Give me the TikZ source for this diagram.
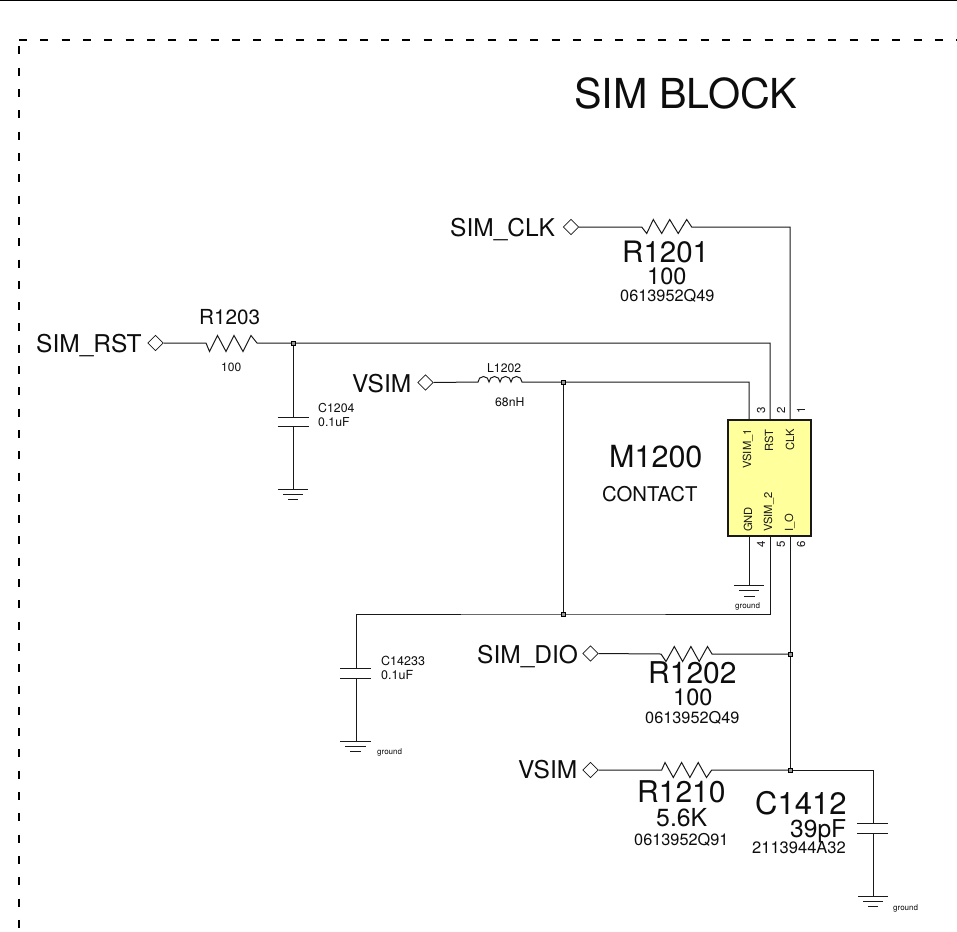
\documentclass[tikz,border=0pt]{standalone}
\usepackage{fontspec}
\setmainfont{TeX Gyre Heros}
\newcommand{\fs}[1]{\fontsize{#1}{#1}\selectfont}
\definecolor{chipfill}{HTML}{FFFF9C}
\tikzset{
  wire/.style={draw=black!90,line width=1pt,line join=miter},
  comp/.style={draw=black!90,line width=0.9pt,line join=miter},
  port/.style={draw=black!90,line width=0.7pt,fill=white,diamond,aspect=1,inner sep=0pt,minimum width=15.5pt,minimum height=15.5pt},
  junction/.style={draw=black,fill=black!40,line width=0.6pt,rectangle,inner sep=0pt,minimum size=3.6pt},
  lbl/.style={anchor=base west,inner sep=0pt,text=black!95},
  pinlbl/.style={inner sep=0pt,text=black!90,font=\fs{11.2},rotate=90},
  pinnum/.style={inner sep=0pt,text=black!90,font=\fs{11.5},rotate=90},
  chip/.style={draw=black!90,fill=chipfill,line width=1.5pt,rectangle,inner sep=0pt,minimum width=83pt,minimum height=116pt},
}
\usetikzlibrary{shapes.geometric}
\begin{document}
\begin{tikzpicture}[x=1pt,y=-1pt]
\useasboundingbox (0,0) rectangle (957,931);
\fill[white] (0,0) rectangle (957,931);
\draw[black,line width=2pt] (0,0.5) -- (957,0.5);
\draw[black,line width=2pt,dash pattern=on 8pt off 13.3pt] (19,40) -- (957,40);
\draw[black,line width=2pt,dash pattern=on 8pt off 13.3pt] (19,46.5) -- (19,931);
\node[lbl,font=\fs{41.3}] (title) at (574,108) {SIM BLOCK};

% chip
\node[chip] (M) at (769.5,478) {};
\coordinate (p3) at (749,420); \coordinate (p2) at (770,420); \coordinate (p1) at (790,420);
\coordinate (p4) at (749,536); \coordinate (p5) at (770,536); \coordinate (p6) at (790,536);
\node[pinlbl,anchor=east] (lv1) at (748,429) {VSIM\_1};
\node[pinlbl,anchor=east] (lrst) at (769,429.5) {RST};
\node[pinlbl,anchor=east] (lclk) at (790,428.5) {CLK};
\node[pinlbl,anchor=west] (lgnd) at (748,532) {GND};
\node[pinlbl,anchor=west] (lv2) at (769,532) {VSIM\_2};
\node[pinlbl,anchor=west] (lio) at (790,532) {I\_O};
\node[pinnum] (n3) at (761,410) {3};
\node[pinnum] (n2) at (781,410) {2};
\node[pinnum] (n1) at (801,410) {1};
\node[pinnum] (n4) at (761,544.5) {4};
\node[pinnum] (n5) at (781,544.5) {5};
\node[pinnum] (n6) at (801,544.5) {6};
\node[lbl,font=\fs{30.5}] (m1200) at (609,467) {M1200};
\node[lbl,font=\fs{20.3}] (contact) at (602,501) {CONTACT};

% ports
\node[port] (dclk) at (571,227) {};
\node[port] (drst) at (155.5,343) {};
\node[port] (dvs1) at (425.5,382.5) {};
\node[port] (ddio) at (590.5,653.5) {};
\node[port] (dvs2) at (590.5,770) {};
\node[lbl,font=\fs{24.5}] (tclk) at (450,236) {SIM\_CLK};
\node[lbl,font=\fs{24.5}] (trst) at (36,352) {SIM\_RST};
\node[lbl,font=\fs{24.5}] (tvs1) at (352,392) {VSIM};
\node[lbl,font=\fs{24.5}] (tdio) at (477,663) {SIM\_DIO};
\node[lbl,font=\fs{24.5}] (tvs2) at (518,778) {VSIM};

% junctions and corners
\coordinate (jrst) at (293,343);
\coordinate (jvs) at (563,382);
\coordinate (jvs2) at (563,614);
\coordinate (jdio) at (790,654);
\coordinate (jc) at (790,770);
\coordinate (gr1) at (293,489);
\coordinate (gr2) at (356,741);
\coordinate (gr3) at (749,585);
\coordinate (gr4) at (873,896);

% CLK line with R1201
\draw[wire] (dclk.east) -- (641.7,227) -- ++(5,6.5) -- ++(6.6,-14) -- ++(8.4,14) -- ++(8,-14) -- ++(8.5,14) -- ++(8.5,-14) -- (691.7,227) -- (790,227) -- (p1);
% RST line with R1203
\draw[wire] (drst.east) -- (206,343) -- ++(3.5,8.5) -- ++(8,-16) -- ++(8.5,16) -- ++(8,-16) -- ++(9,16) -- ++(8,-16) -- (257,343) -- (jrst) -- (770,343) -- (p2);
% VSIM with L1202
\draw[wire] (dvs1.east) -- (478,382) arc[start angle=180,end angle=360,radius=5.5] arc[start angle=180,end angle=360,radius=5.5] arc[start angle=180,end angle=360,radius=5.5] arc[start angle=180,end angle=360,radius=5.5] -- (jvs) -- (749,382) -- (p3);
\draw[wire] (jvs) -- (jvs2);
% bottom pins
\draw[wire] (p4) -- (gr3);
\draw[wire] (p5) -- (770,614) -- (jvs2) -- (356,614) -- (gr2);
\draw[wire] (p6) -- (jdio) -- (jc);
% DIO line with R1202
\draw[wire] (ddio.east) -- (661,654) -- ++(5,7.5) -- ++(8.3,-15) -- ++(8.3,15) -- ++(8.3,-15) -- ++(8.3,15) -- ++(8.3,-15) -- (712,654) -- (jdio);
% VSIM2 line with R1210
\draw[wire] (dvs2.east) -- (661.7,770) -- ++(3.3,-7.5) -- ++(8.3,15) -- ++(8.3,-15) -- ++(8.3,15) -- ++(8.3,-15) -- ++(8.3,15) -- (711.7,770) -- (jc);
\draw[wire] (jc) -- (873,770) -- (gr4);
\draw[wire] (jrst) -- (gr1);

% capacitors (white gap, plates)
\fill[white] (280,417) rectangle (306,426);
\draw[comp] (277.5,417) -- (308.5,417) (277.5,426) -- (308.5,426);
\fill[white] (343,668) rectangle (369,678);
\draw[comp] (340,668) -- (371,668) (340,678) -- (371,678);
\fill[white] (860,823) rectangle (886,833);
\draw[comp] (857,823) -- (888,823) (857,833) -- (888,833);

% grounds
\draw[comp] (278,489) -- (308,489) (283,494) -- (303,494) (288,499) -- (298,499);
\draw[comp] (340,741) -- (371,741) (345,746) -- (366,746) (350,751) -- (361,751);
\draw[comp] (734,585) -- (764,585) (739,590) -- (759,590) (744,596) -- (755,596);
\draw[comp] (858,896) -- (888,896) (863,901) -- (883,901) (868,906) -- (878,906);

% junction marks
\node[junction] (Jrst) at (jrst) {};
\node[junction] (Jvs) at (jvs) {};
\node[junction] (Jvs2) at (jvs2) {};
\node[junction] (Jdio) at (jdio) {};
\node[junction] (Jc) at (jc) {};

% labels
\node[lbl,font=\fs{29.5}] (r1201) at (622,262.5) {R1201};
\node[lbl,font=\fs{23.5}] (r1201v) at (647,284.5) {100};
\node[lbl,font=\fs{16.3}] (r1201p) at (620,301) {0613952Q49};
\node[lbl,font=\fs{20.7}] (r1203) at (199,324) {R1203};
\node[lbl,font=\fs{12}] (r1203v) at (221,371) {100};
\node[lbl,font=\fs{12.3}] (c1204) at (318,412) {C1204};
\node[lbl,font=\fs{12.3}] (c1204v) at (318,426) {0.1uF};
\node[lbl,font=\fs{12.2}] (l1202) at (487,372) {L1202};
\node[lbl,font=\fs{12.2}] (l1202v) at (495,406) {68nH};
\node[lbl,font=\fs{8}] (g3) at (735,608.5) {ground};
\node[lbl,font=\fs{12.5}] (c14233) at (381,665) {C14233};
\node[lbl,font=\fs{12.5}] (c14233v) at (381,679) {0.1uF};
\node[lbl,font=\fs{8}] (g2) at (377,754) {ground};
\node[lbl,font=\fs{30}] (r1202) at (648,683) {R1202};
\node[lbl,font=\fs{23.5}] (r1202v) at (673,705) {100};
\node[lbl,font=\fs{16.3}] (r1202p) at (645,723) {0613952Q49};
\node[lbl,font=\fs{30}] (r1210) at (637,802.5) {R1210};
\node[lbl,font=\fs{24.8}] (r1210v) at (656,826) {5.6K};
\node[lbl,font=\fs{16.3}] (r1210p) at (634,845) {0613952Q91};
\node[lbl,font=\fs{31}] (c1412) at (755,814) {C1412};
\node[lbl,font=\fs{24.6}] (c1412v) at (790,837.5) {39pF};
\node[lbl,font=\fs{16.5}] (c1412p) at (752,853) {2113944A32};
\node[lbl,font=\fs{8}] (g4) at (893,910) {ground};
\end{tikzpicture}
\end{document}
